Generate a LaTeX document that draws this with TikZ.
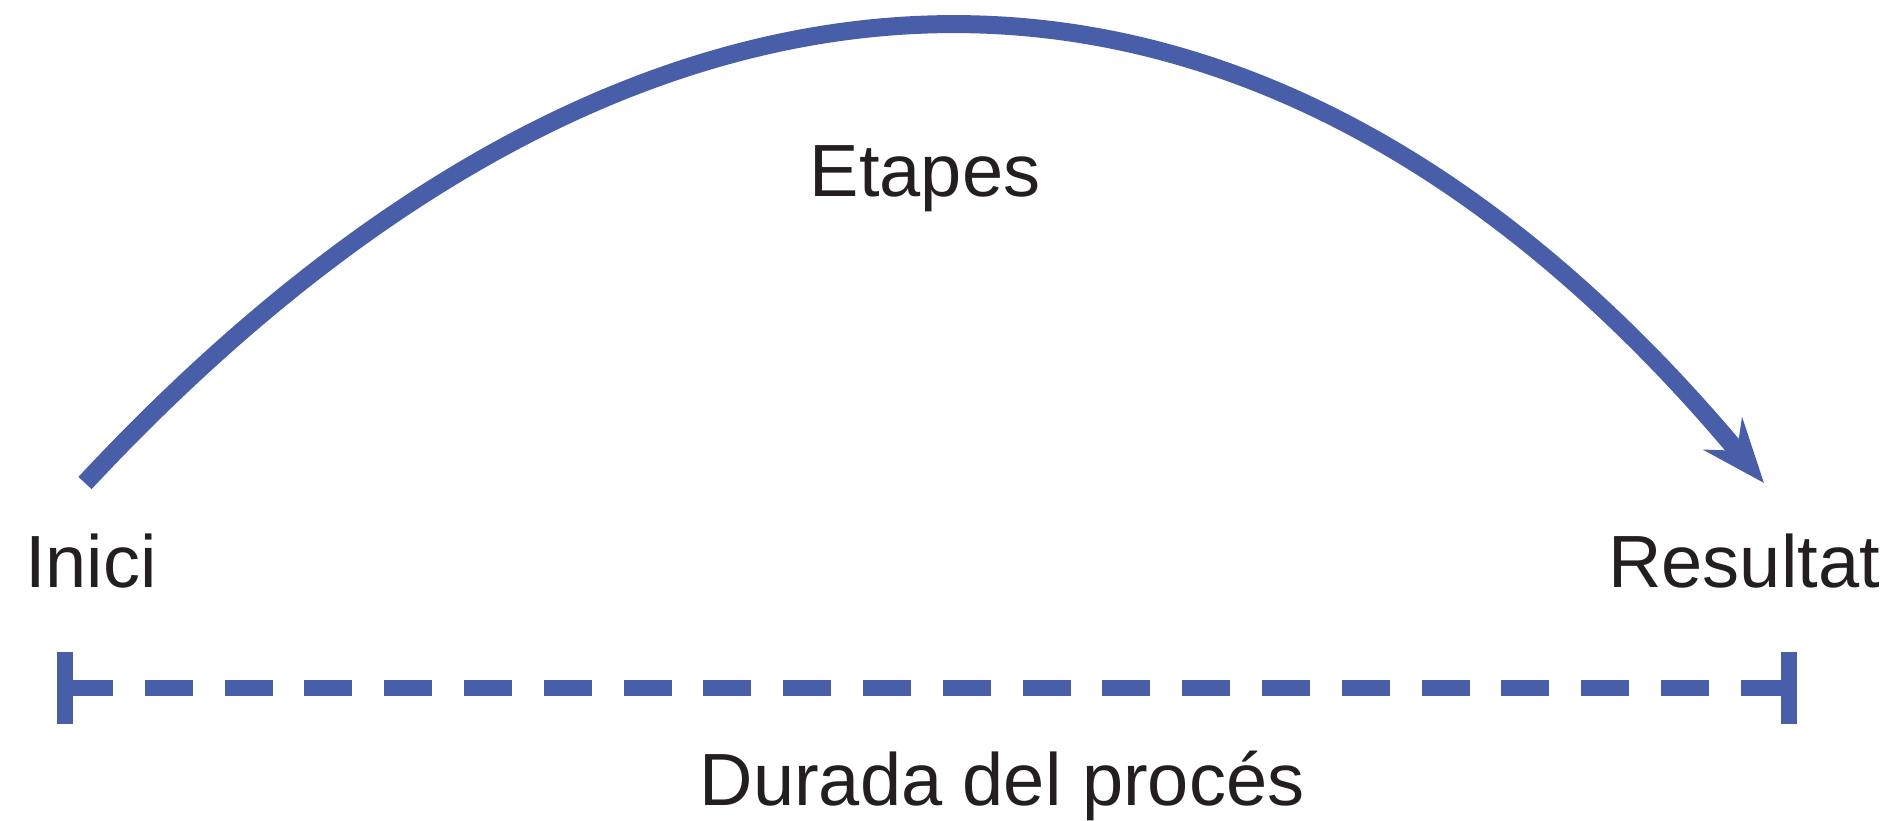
\documentclass[tikz,border=0pt]{standalone}
\usepackage{fontspec}
\setmainfont{Liberation Sans}
\usetikzlibrary{arrows.meta}
\definecolor{etapblue}{RGB}{73,94,168}
\definecolor{etaptext}{RGB}{35,31,32}
\tikzset{
    lbl/.style={inner sep=0pt, text=etaptext, font=\fontsize{74}{80}\selectfont},
    bigarrow/.style={draw=etapblue, line width=18pt,
        -{Stealth[length=64pt, width=50pt, inset=22pt]}},
    span/.style={draw=etapblue, line width=16pt,
        dash pattern=on 48pt off 31.8pt, dash phase=8pt},
    spanbar/.style={draw=etapblue, line width=16pt}
}
\begin{document}
\begin{tikzpicture}[x=1pt, y=-1pt]
        \useasboundingbox (0, 0) rectangle (1900, 820);
        \node[lbl, anchor=base west] (inici) at (25, 587) {Inici};
        \node[lbl, anchor=base east] (resultat) at (1880, 587) {Resultat};
        \node[lbl, anchor=base] (etapes) at (925, 196) {Etapes};
        \node[lbl, anchor=base] (durada) at (1002, 805) {Durada del procés};
        % arc
        \coordinate (arcstart) at (85, 483);
        \coordinate (arcend) at (1764, 483);
        \draw[bigarrow] (arcstart) .. controls (651, -124) and (1257, -124) .. (arcend);
        % duration
        \coordinate (spanleft) at (65, 688);
        \coordinate (spanright) at (1789, 688);
        \draw[spanbar] ([yshift=-36pt]spanleft) -- ([yshift=36pt]spanleft);
        \draw[spanbar] ([yshift=-36pt]spanright) -- ([yshift=36pt]spanright);
        \draw[span] ([xshift=8pt]spanleft) -- ([xshift=-8pt]spanright);
    \end{tikzpicture}
\end{document}
